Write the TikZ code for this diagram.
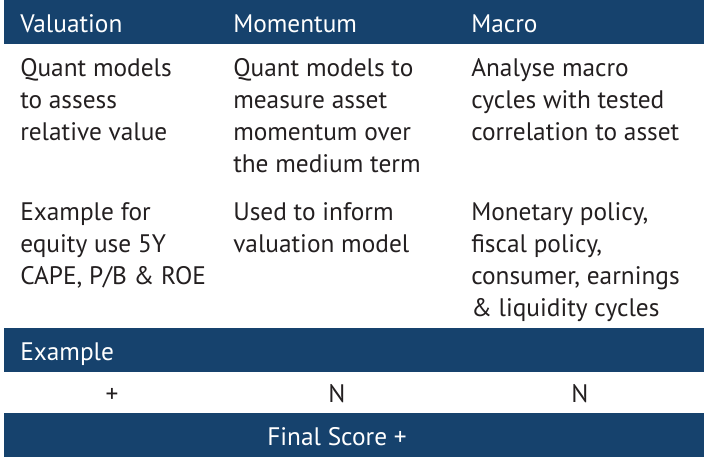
\documentclass[tikz,border=0pt]{standalone}
\usepackage{fontspec}
\setmainfont{PT Sans}
\definecolor{navy}{HTML}{16426D}
\definecolor{ink}{HTML}{231F20}
\newcommand{\rows}[1]{\begin{tabular}[t]{@{}l@{}}#1\end{tabular}}
\begin{document}
\begin{tikzpicture}[x=0.75pt,y=-0.75pt,
  bar/.style={fill=navy,draw=none},
  hd/.style={anchor=base west,inner sep=0,text=white,font=\fontsize{19}{24}\selectfont},
  tx/.style={anchor=base west,inner sep=0,text=ink,font=\fontsize{19}{24}\selectfont},
  ct/.style={anchor=base,inner sep=0,text=ink,font=\fontsize{19}{24}\selectfont}]
\useasboundingbox (0,0) rectangle (708,461);
\fill[bar] (4,0) rectangle (704,44);
\fill[bar] (4,328) rectangle (704,372);
\fill[bar] (4,413) rectangle (704,457);
\node[hd] (h1) at (20,32) {Valuation};
\node[hd] (h2) at (233,32) {Momentum};
\node[hd] (h3) at (471,32) {Macro};
\node[tx] (a1) at (20,76) {\rows{Quant models\\to assess\\relative value}};
\node[tx] (a2) at (233,76) {\rows{Quant models to\\measure asset\\momentum over\\the medium term}};
\node[tx] (a3) at (471,76) {\rows{Analyse macro\\cycles with tested\\correlation to asset}};
\node[tx] (b1) at (20,220) {\rows{Example for\\equity use 5Y\\CAPE, P/B \& ROE}};
\node[tx] (b2) at (233,220) {\rows{Used to inform\\valuation model}};
\node[tx] (b3) at (471,220) {\rows{Monetary policy,\\fiscal policy,\\consumer, earnings\\\& liquidity cycles}};
\node[hd] (ex) at (20,360) {Example};
\node[ct] (s1) at (112,402) {+};
\node[ct] (s2) at (337,402) {N};
\node[ct] (s3) at (580,402) {N};
\node[hd,anchor=base] (fs) at (337,445) {Final Score +};
\end{tikzpicture}
\end{document}
